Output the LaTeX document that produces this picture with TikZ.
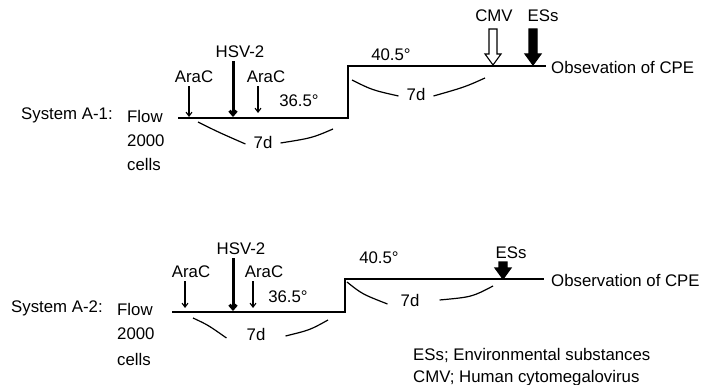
\documentclass[tikz,border=0pt]{standalone}
\usepackage{fontspec}
\setmainfont{Liberation Sans}
\usepackage{tikz}
\usetikzlibrary{arrows.meta, positioning, calc}
\tikzset{
	lbl/.style     ={inner sep=0pt, font=\fontsize{16.8}{19}\selectfont},
	stage/.style   ={line width=1.5pt},
	thinarr/.style ={-{Straight Barb[length=4pt, width=6pt]}, line width=1.1pt, shorten <=3pt},
	thickarr/.style={-{Straight Barb[length=4pt, width=7pt]}, line width=3pt, shorten <=3pt},
	brc/.style     ={line width=1.2pt},
}
% block arrow pointing down: x, top y, tip y, fill
\newcommand{\blkArrow}[4]{%
	\draw[line width=1.1pt, fill=#4] ({#1-4},#2) -- ({#1+4},#2) -- ({#1+4},{#3-11}) -- ({#1+8},{#3-11})
		-- (#1,#3) -- ({#1-8},{#3-11}) -- ({#1-4},{#3-11}) -- cycle;}

\begin{document}
\begin{tikzpicture}[x=1pt, y=-1pt]
	\useasboundingbox (0,0) rectangle (704,385);
	% ---- system A-1
	\node[lbl, anchor=west] (sysa) at (21,115) {System A-1:};
	\node[lbl, anchor=west] (flowa) at (127,116) {Flow};
	\node[lbl, anchor=west] (numa) at (127,141) {2000};
	\node[lbl, anchor=west] (cella) at (127,164) {cells};
	\coordinate (a0) at (178,118);
	\coordinate (a1) at (348,118);
	\coordinate (a2) at (348,66);
	\coordinate (a3) at (546,66);
	\draw[stage] (a0) -- (a1) -- (a2) -- (a3);
	\node[lbl, anchor=west] (obsa) at (551,67) {Obsevation of CPE};
	% additions
	\node[lbl] (araa1) at (194,77) {AraC};
	\node[lbl] (hsva) at (240,52) {HSV-2};
	\node[lbl] (araa2) at (266,77) {AraC};
	\coordinate (ta1) at (189,117);
	\coordinate (ta2) at (233,117);
	\coordinate (ta3) at (258,113);
	\draw[thinarr] (ta1 |- araa1.south) -- (ta1);
	\draw[thickarr] (ta2 |- hsva.south) -- (ta2);
	\draw[thinarr] (ta3 |- araa2.south) -- (ta3);
	\node[lbl] (tla) at (299,101) {36.5°};
	\node[lbl] (tha) at (391,55) {40.5°};
	% periods
	\node[lbl] (da1) at (263,142) {7d};
	\draw[brc] (198,122) .. controls (218,132) .. ([xshift=-8pt,yshift=-2pt]da1.west);
	\draw[brc] ([xshift=8pt,yshift=-1pt]da1.east) .. controls (312,138) .. (333,129);
	\node[lbl] (da2) at (416,94) {7d};
	\draw[brc] (352,80) .. controls (372,90) .. ([xshift=-8pt,yshift=-2pt]da2.west);
	\draw[brc] ([xshift=8pt,yshift=-2pt]da2.east) .. controls (465,87) .. (485,78);
	% infection and test substances
	\node[lbl] (cmva) at (494,16) {CMV};
	\node[lbl] (essa) at (543,16) {ESs};
	\blkArrow{493}{29}{65}{white}
	\blkArrow{533}{29}{65}{black}

	% ---- system A-2
	\node[lbl, anchor=west] (sysb) at (11,308) {System A-2:};
	\node[lbl, anchor=west] (flowb) at (117,309) {Flow};
	\node[lbl, anchor=west] (numb) at (117,334) {2000};
	\node[lbl, anchor=west] (cellb) at (117,359) {cells};
	\coordinate (b0) at (172,312);
	\coordinate (b1) at (345,312);
	\coordinate (b2) at (345,279);
	\coordinate (b3) at (544,279);
	\draw[stage] (b0) -- (b1) -- (b2) -- (b3);
	\node[lbl, anchor=west] (obsb) at (551,280) {Observation of CPE};
	% additions
	\node[lbl] (arab1) at (191,272) {AraC};
	\node[lbl] (hsvb) at (241,249) {HSV-2};
	\node[lbl] (arab2) at (264,272) {AraC};
	\coordinate (tb1) at (185,308);
	\coordinate (tb2) at (233,311);
	\coordinate (tb3) at (253,308);
	\draw[thinarr] (tb1 |- arab1.south) -- (tb1);
	\draw[thickarr] (tb2 |- hsvb.south) -- (tb2);
	\draw[thinarr] (tb3 |- arab2.south) -- (tb3);
	\node[lbl] (tlb) at (288,297) {36.5°};
	\node[lbl] (thb) at (379,258) {40.5°};
	% periods
	\node[lbl] (db1) at (256,334) {7d};
	\draw[brc] (193,318) .. controls (208,325) .. ([xshift=-20pt,yshift=-4pt]db1.west);
	\draw[brc] ([xshift=20pt,yshift=-2pt]db1.east) .. controls (310,330) .. (328,320);
	\node[lbl] (db2) at (410,300) {7d};
	\draw[brc] (347,282) .. controls (362,294) .. ([xshift=-13pt,yshift=-4pt]db2.west);
	\draw[brc] ([xshift=20pt,yshift=0pt]db2.east) .. controls (472,297) .. (493,286);
	\node[lbl] (essb) at (511,253) {ESs};
	\blkArrow{503}{262}{279}{black}
	% legend
	\node[lbl, anchor=west] (leg1) at (413,355) {ESs; Environmental substances};
	\node[lbl, anchor=west] (leg2) at (413,378) {CMV; Human cytomegalovirus};
\end{tikzpicture}
\end{document}
